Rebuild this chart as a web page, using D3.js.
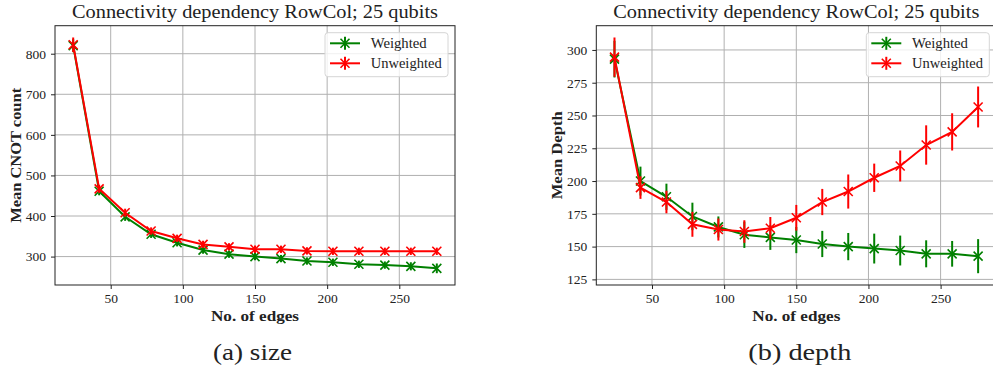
<!DOCTYPE html>
<html>
<head>
<meta charset="utf-8">
<script src="https://cdn.jsdelivr.net/npm/d3@7"></script>
<style>
  body { margin: 0; background: #fff; }
  svg { display: block; }
  text { font-family: "Liberation Serif", "DejaVu Serif", serif; fill: #222; }
</style>
</head>
<body>
<script>
// number of edges in the connectivity graph
const edges = [24, 42, 60, 78, 96, 114, 132, 150, 168, 186, 204, 222, 240, 258, 276];

// (a) size: mean CNOT count
const sizeWeighted = [820, 461, 398, 355, 334, 316, 306, 300, 295, 289, 286, 281, 279, 276, 271];
const sizeWeightedErr = [16, 10, 10, 9, 9, 9, 9, 9, 9, 9, 9, 9, 9, 10, 12];
const sizeUnweighted = [822, 467, 408, 363, 345, 330, 324, 318, 318, 314, 313, 313, 313, 313, 313];
const sizeUnweightedErr = [18, 10, 10, 9, 9, 9, 9, 9, 9, 9, 9, 9, 9, 9, 9];

// (b) depth: mean depth
const depthWeighted = [293, 200, 188, 173, 165, 159, 157, 155, 152, 150, 148.5, 147, 144.5, 144.5, 142.7];
const depthWeightedErr = [14, 11, 10, 10.5, 8, 10, 9.5, 10, 10, 10.4, 11.4, 11.4, 10.3, 9.8, 13];
const depthUnweighted = [294.5, 195, 184, 167, 163, 161.5, 164, 172, 184, 192, 202.5, 211.5, 227.5, 237.5, 256.5];
const depthUnweightedErr = [15, 8.6, 8.6, 9.5, 8.4, 8.6, 8.6, 9.8, 10, 13, 10.8, 11.8, 15, 14.2, 15.6];

const xTicks = [50, 100, 150, 200, 250];
const sizeTicks = [300, 400, 500, 600, 700, 800];
const depthTicks = [125, 150, 175, 200, 225, 250, 275, 300];

const seriesNames = ["Weighted", "Unweighted"];
const seriesColors = ["#008000", "#ff0000"];

const titleText = "Connectivity dependency RowCol; 25 qubits";
const xLabel = "No. of edges";

const W = 993, H = 375;
const svg = d3.select("body").append("svg").attr("width", W).attr("height", H);

// matplotlib style auto-limits: data extent plus 5% margins
function padded(lo, hi) {
    const m = (hi - lo) * 0.05;
    return [lo - m, hi + m];
}

// Liberation Serif is narrower than the Computer Modern of the original,
// so stretch the longer texts to the measured widths
function stretch(sel, len) {
    sel.attr("textLength", len).attr("lengthAdjust", "spacingAndGlyphs");
}

function drawPanel(left, series, yTicks, yLabel, yLabelLen, caption, captionLen, captionShift) {
    const top = 25.7, plotW = 400, plotH = 259.3;
    const g = svg.append("g").attr("transform", `translate(${left},${top})`);

    const x = d3.scaleLinear()
        .domain(padded(d3.min(edges), d3.max(edges)))
        .range([0, plotW]);

    const lows = series.flatMap(s => s.values.map((v, i) => v - s.err[i]));
    const highs = series.flatMap(s => s.values.map((v, i) => v + s.err[i]));
    const y = d3.scaleLinear()
        .domain(padded(d3.min(lows), d3.max(highs)))
        .range([plotH, 0]);

    // grid
    g.append("g").selectAll("line").data(xTicks).join("line")
        .attr("x1", d => x(d)).attr("x2", d => x(d))
        .attr("y1", 0).attr("y2", plotH)
        .attr("stroke", "#b0b0b0").attr("stroke-width", 1);
    g.append("g").selectAll("line").data(yTicks).join("line")
        .attr("x1", 0).attr("x2", plotW)
        .attr("y1", d => y(d)).attr("y2", d => y(d))
        .attr("stroke", "#b0b0b0").attr("stroke-width", 1);

    // axes
    const xAxis = g.append("g").attr("transform", `translate(0,${plotH})`)
        .call(d3.axisBottom(x).tickValues(xTicks).tickSize(4).tickPadding(4).tickFormat(d3.format("d")));
    const yAxis = g.append("g")
        .call(d3.axisLeft(y).tickValues(yTicks).tickSize(4).tickPadding(5).tickFormat(d3.format("d")));
    [xAxis, yAxis].forEach(a => {
        a.select(".domain").remove();
        a.selectAll("line").attr("stroke", "#222").attr("stroke-width", 1);
        a.selectAll("text").attr("font-size", 13.5)
            .attr("font-family", "'Liberation Serif', serif").attr("fill", "#222");
    });

    // series
    const line = d3.line().x(d => x(d[0])).y(d => y(d[1]));
    series.forEach((s, k) => {
        const col = seriesColors[k];
        const pts = edges.map((e, i) => [e, s.values[i], s.err[i]]);
        const sg = g.append("g");
        sg.append("path").datum(pts).attr("d", line)
            .attr("fill", "none").attr("stroke", col).attr("stroke-width", 2);
        sg.selectAll("line.err").data(pts).join("line").attr("class", "err")
            .attr("x1", d => x(d[0])).attr("x2", d => x(d[0]))
            .attr("y1", d => y(d[1] - d[2])).attr("y2", d => y(d[1] + d[2]))
            .attr("stroke", col).attr("stroke-width", 2);
        sg.selectAll("path.mk").data(pts).join("path").attr("class", "mk")
            .attr("d", d => {
                const cx = x(d[0]), cy = y(d[1]), r = 4.5;
                return `M${cx - r},${cy - r}L${cx + r},${cy + r}M${cx - r},${cy + r}L${cx + r},${cy - r}`;
            })
            .attr("stroke", col).attr("stroke-width", 1.6).attr("fill", "none");
    });

    // frame
    g.append("rect").attr("width", plotW).attr("height", plotH)
        .attr("fill", "none").attr("stroke", "#222").attr("stroke-width", 1);

    // legend
    const lg = g.append("g").attr("transform", `translate(${plotW - 130},7)`);
    lg.append("rect").attr("width", 123).attr("height", 44).attr("rx", 3)
        .attr("fill", "#fff").attr("fill-opacity", 0.8)
        .attr("stroke", "#d6d6d6").attr("stroke-width", 1);
    seriesNames.forEach((name, k) => {
        const col = seriesColors[k];
        const ry = 10.6 + k * 20;
        const row = lg.append("g").attr("transform", `translate(0,${ry})`);
        row.append("line").attr("x1", 5).attr("x2", 35).attr("y1", 0).attr("y2", 0)
            .attr("stroke", col).attr("stroke-width", 2);
        row.append("line").attr("x1", 20).attr("x2", 20).attr("y1", -6.5).attr("y2", 6.5)
            .attr("stroke", col).attr("stroke-width", 2);
        row.append("path").attr("d", "M15.5,-4.5L24.5,4.5M15.5,4.5L24.5,-4.5")
            .attr("stroke", col).attr("stroke-width", 1.6);
        row.append("text").attr("x", 45.7).attr("y", 4.5)
            .attr("font-size", 14).text(name)
            .call(stretch, k === 0 ? 56 : 71);
    });

    // title and labels
    svg.append("text").attr("x", left + plotW / 2).attr("y", 17.5)
        .attr("text-anchor", "middle").attr("font-size", 19.5).text(titleText)
        .call(stretch, 366);
    svg.append("text").attr("x", left + plotW / 2).attr("y", 321)
        .attr("text-anchor", "middle").attr("font-size", 14).attr("font-weight", "bold").text(xLabel)
        .call(stretch, 88);
    svg.append("text")
        .attr("transform", `translate(${left - 34},${top + plotH / 2}) rotate(-90)`)
        .attr("text-anchor", "middle").attr("font-size", 14).attr("font-weight", "bold").text(yLabel)
        .call(stretch, yLabelLen);
    svg.append("text").attr("x", left + plotW / 2 + captionShift).attr("y", 360)
        .attr("text-anchor", "middle").attr("font-size", 22.5).text(caption)
        .call(stretch, captionLen);
}

drawPanel(55,
    [{values: sizeWeighted, err: sizeWeightedErr}, {values: sizeUnweighted, err: sizeUnweightedErr}],
    sizeTicks, "Mean CNOT count", 135, "(a) size", 79, -2.5);

drawPanel(596.3,
    [{values: depthWeighted, err: depthWeightedErr}, {values: depthUnweighted, err: depthUnweightedErr}],
    depthTicks, "Mean Depth", 88, "(b) depth", 103, 3.5);
</script>
</body>
</html>
